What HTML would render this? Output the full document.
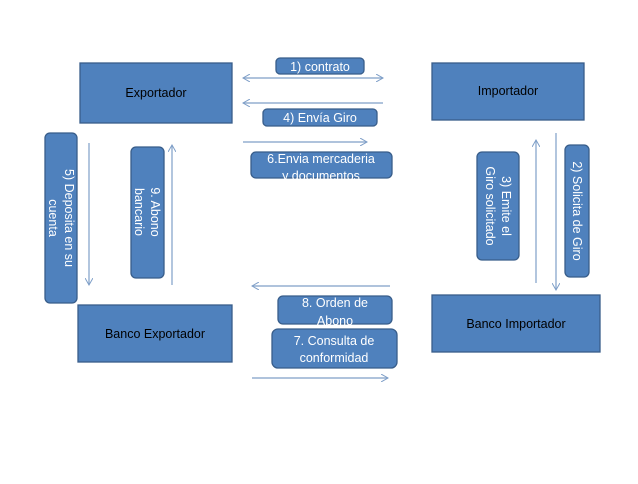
<!DOCTYPE html>
<html><head><meta charset="utf-8"><style>
body{margin:0;background:#fff}
svg text{font-family:"Liberation Sans",sans-serif;fill:#fff;font-size:12.5px}
</style></head><body>
<svg width="638" height="479" viewBox="0 0 638 479" xmlns="http://www.w3.org/2000/svg">
<defs>
<marker id="a" markerWidth="8" markerHeight="8" refX="7" refY="4" orient="auto-start-reverse" markerUnits="userSpaceOnUse"><path d="M0,0 L7,4 L0,8" fill="none" stroke="#7f9fc8" stroke-width="1"/></marker>
</defs>
<g fill="#4f81bd" stroke="#385d8a" stroke-width="1.3">
<rect x="80" y="63" width="152" height="60"/>
<rect x="432" y="63" width="152" height="57"/>
<rect x="78" y="305" width="154" height="57"/>
<rect x="432" y="295" width="168" height="57"/>
<rect x="276" y="58" width="88" height="16" rx="4"/>
<rect x="263" y="109" width="114" height="17" rx="4"/>
<rect x="251" y="152" width="141" height="26" rx="5"/>
<rect x="45" y="133" width="32" height="170" rx="5"/>
<rect x="131" y="147" width="33" height="131" rx="5"/>
<rect x="477" y="152" width="42" height="108" rx="5"/>
<rect x="565" y="145" width="24" height="132" rx="5"/>
<rect x="278" y="296" width="114" height="28" rx="5"/>
<rect x="272" y="329" width="125" height="39" rx="6"/>
</g>
<g stroke="#7f9fc8" stroke-width="1.2" fill="none">
<line x1="243" y1="78" x2="383" y2="78" marker-start="url(#a)" marker-end="url(#a)"/>
<line x1="383" y1="103" x2="243" y2="103" marker-end="url(#a)"/>
<line x1="243" y1="142" x2="367" y2="142" marker-end="url(#a)"/>
<line x1="89" y1="143" x2="89" y2="285" marker-end="url(#a)"/>
<line x1="172" y1="285" x2="172" y2="145" marker-end="url(#a)"/>
<line x1="536" y1="283" x2="536" y2="140" marker-end="url(#a)"/>
<line x1="556" y1="133" x2="556" y2="290" marker-end="url(#a)"/>
<line x1="390" y1="286" x2="252" y2="286" marker-end="url(#a)"/>
<line x1="252" y1="378" x2="388" y2="378" marker-end="url(#a)"/>
</g>
<g text-anchor="middle">
<text x="156" y="97" style="fill:#000">Exportador</text>
<text x="508" y="95" style="fill:#000">Importador</text>
<text x="155" y="338" style="fill:#000">Banco Exportador</text>
<text x="516" y="328" style="fill:#000">Banco Importador</text>
<text x="320" y="71">1) contrato</text>
<text x="320" y="122">4) Envía Giro</text>
<text x="321" y="163">6.Envia mercaderia</text>
<text x="321" y="180">y documentos</text>
<text x="335" y="307">8. Orden de</text>
<text x="335" y="325">Abono</text>
<text x="334" y="345">7. Consulta de</text>
<text x="334" y="362">conformidad</text>
<g transform="translate(61,218) rotate(90)"><text x="0" y="-4">5) Deposita en su</text><text x="0" y="12">cuenta</text></g>
<g transform="translate(147,212) rotate(90)"><text x="0" y="-4">9. Abono</text><text x="0" y="12">bancario</text></g>
<g transform="translate(498,206) rotate(90)"><text x="0" y="-4">3) Emite el</text><text x="0" y="12">Giro solicitado</text></g>
<g transform="translate(577,211) rotate(90)"><text x="0" y="4">2) Solicita de Giro</text></g>
</g>
</svg>
</body></html>
